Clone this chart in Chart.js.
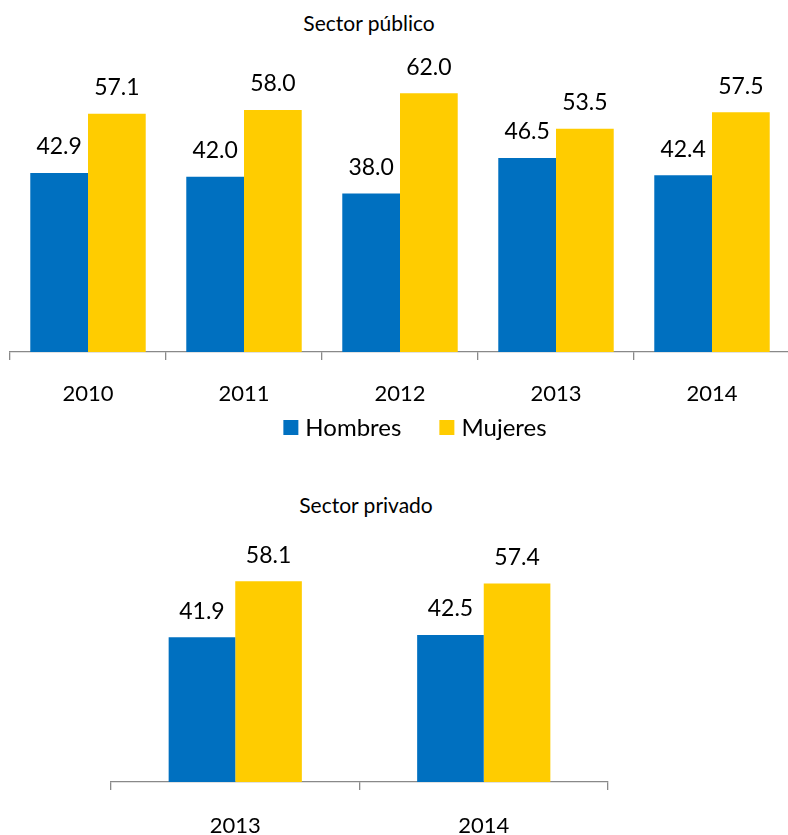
<!DOCTYPE html>
<html>
<head>
<meta charset="utf-8">
<script src="https://cdn.jsdelivr.net/npm/chart.js@4.4.1/dist/chart.umd.min.js"></script>
<style>
  html, body { margin: 0; padding: 0; background: #fff; width: 788px; height: 835px; overflow: hidden; position: relative; }
  .title { position: absolute; font-family: Lato, "Open Sans", sans-serif; font-size: 21px; line-height: 24px; color: #000; white-space: nowrap; transform: translateX(-50%); }
  #c1wrap, #c2wrap { position: absolute; left: 0; }
  #c1wrap { top: 0; width: 800px; height: 420px; }
  #c2wrap { top: 450px; width: 800px; height: 385px; }
  #legend { position: absolute; top: 413px; left: 415px; transform: translateX(-50%); display: flex; align-items: center;
            font-family: Lato, "Open Sans", sans-serif; font-size: 24px; line-height: 28px; color: #000; white-space: nowrap; }
  #legend .item { display: flex; align-items: center; }
  #legend .item + .item { margin-left: 38px; }
  #legend .box { width: 15px; height: 15px; margin-right: 7px; }
</style>
</head>
<body>
<div class="title" id="t1" style="left:369px; top:11px;">Sector público</div>
<div class="title" id="t2" style="left:366px; top:493px;">Sector privado</div>
<div id="c1wrap"><canvas id="c1" width="800" height="420"></canvas></div>
<div id="legend"></div>
<div id="c2wrap"><canvas id="c2" width="800" height="385"></canvas></div>
<script>
// ---- Data ----
const categoriesPublic = ['2010', '2011', '2012', '2013', '2014'];
const hombresPublic = [42.9, 42.0, 38.0, 46.5, 42.4];
const mujeresPublic = [57.1, 58.0, 62.0, 53.5, 57.5];

const categoriesPrivate = ['2013', '2014'];
const hombresPrivate = [41.9, 42.5];
const mujeresPrivate = [58.1, 57.4];

const seriesNames = ['Hombres', 'Mujeres'];

// ---- Styles ----
const BLUE = '#0070C0';
const YELLOW = '#FFCC00';
const AXIS = '#898989';
const FONT = 'Lato, "Open Sans", sans-serif';

const valueLabels = {
  id: 'valueLabels',
  afterDatasetsDraw(chart) {
    const ctx = chart.ctx;
    ctx.save();
    ctx.font = '23px ' + FONT;
    ctx.fillStyle = '#000';
    ctx.textAlign = 'center';
    ctx.textBaseline = 'middle';
    chart.data.datasets.forEach((ds, i) => {
      const meta = chart.getDatasetMeta(i);
      meta.data.forEach((bar, j) => {
        ctx.fillText(Number(ds.data[j]).toFixed(1), bar.x, bar.y - 26);
      });
    });
    ctx.restore();
  }
};

function makeChart(canvasId, cats, hombres, mujeres, opts) {
  return new Chart(document.getElementById(canvasId), {
    type: 'bar',
    data: {
      labels: cats,
      datasets: [
        { label: seriesNames[0], data: hombres, backgroundColor: BLUE, borderWidth: 0,
          categoryPercentage: opts.catPct, barPercentage: 1.0 },
        { label: seriesNames[1], data: mujeres, backgroundColor: YELLOW, borderWidth: 0,
          categoryPercentage: opts.catPct, barPercentage: 1.0 }
      ]
    },
    options: {
      responsive: false,
      animation: false,
      layout: { padding: opts.padding },
      plugins: {
        title: { display: false },
        tooltip: { enabled: false },
        legend: { display: false }
      },
      scales: {
        y: { display: false, min: 0, max: 70 },
        x: {
          afterFit(scale) { scale.height = opts.xHeight; },
          grid: { display: true, drawOnChartArea: false, drawTicks: true, tickLength: 8,
                  color: AXIS, lineWidth: 1.3, offset: true },
          border: { display: true, color: AXIS, width: 1.3 },
          ticks: { padding: opts.tickPad, color: '#000', font: { family: FONT, size: 22 } }
        }
      }
    },
    plugins: [valueLabels]
  });
}

const chartPublic = makeChart('c1', categoriesPublic, hombresPublic, mujeresPublic, {
  catPct: 0.74, padding: { top: 60, left: 10, right: 10, bottom: 0 },
  xHeight: 68, tickPad: 21
});
makeChart('c2', categoriesPrivate, hombresPrivate, mujeresPrivate, {
  catPct: 0.536, padding: { top: 90, left: 111, right: 192, bottom: 0 },
  xHeight: 53, tickPad: 23
});

// HTML legend built from the library's own legend items
const legendEl = document.getElementById('legend');
const items = Chart.defaults.plugins.legend.labels.generateLabels(chartPublic);
items.forEach(it => {
  const item = document.createElement('span');
  item.className = 'item';
  const box = document.createElement('span');
  box.className = 'box';
  box.style.background = it.fillStyle;
  const txt = document.createElement('span');
  txt.textContent = it.text;
  item.appendChild(box);
  item.appendChild(txt);
  legendEl.appendChild(item);
});
</script>
</body>
</html>
